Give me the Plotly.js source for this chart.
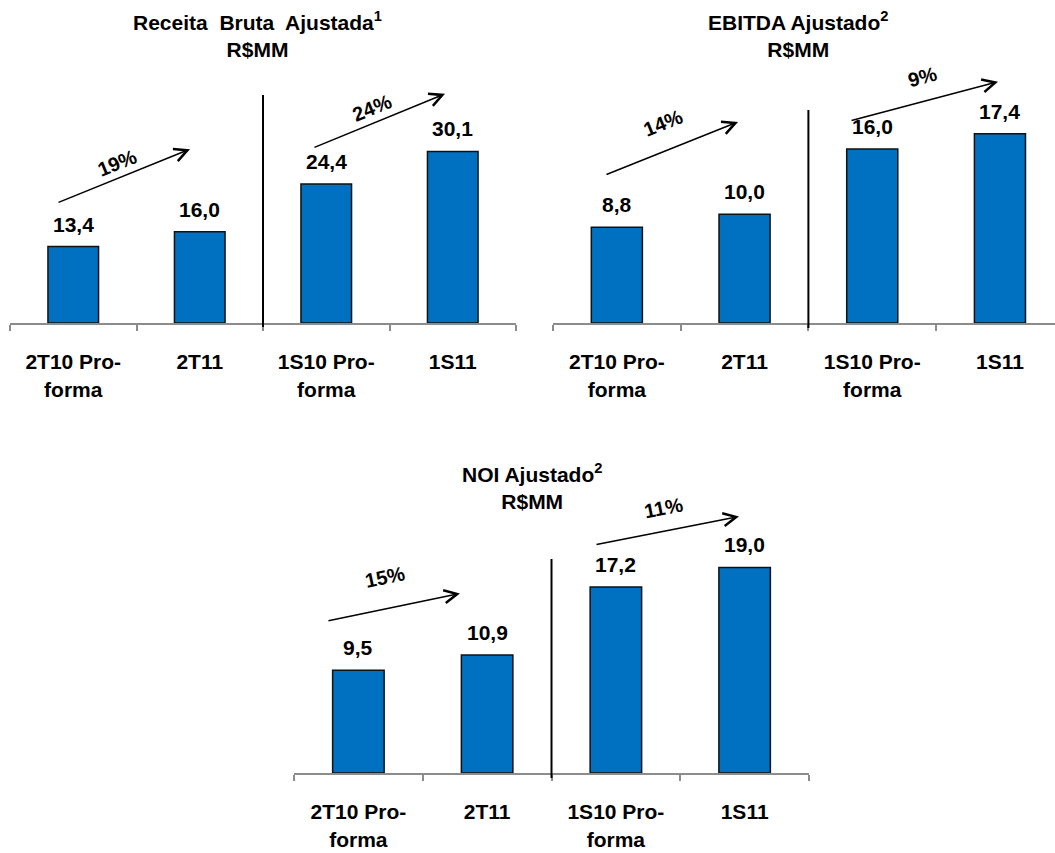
<!DOCTYPE html>
<html><head><meta charset="utf-8">
<script src="https://cdn.plot.ly/plotly-3.0.1.min.js"></script>
<style>html,body{margin:0;padding:0;background:#fff}</style>
</head><body><div id="chart" style="width:1055px;height:853px"></div>
<script>
// ---- data ----
const categories = ["2T10 Pro-<br>forma", "2T11", "1S10 Pro-<br>forma", "1S11"];
const receitaValues = [13.4, 16.0, 24.4, 30.1];
const ebitdaValues = [8.8, 10.0, 16.0, 17.4];
const noiValues = [9.5, 10.9, 17.2, 19.0];
const receitaGrowth = ["19%", "24%"];
const ebitdaGrowth = ["14%", "9%"];
const noiGrowth = ["15%", "11%"];
const titles = ["Receita  Bruta  Ajustada<sup>1</sup><br>R$MM", "EBITDA Ajustado<sup>2</sup><br>R$MM", "NOI Ajustado<sup>2</sup><br>R$MM"];

// ---- layout helpers ----
const FONT = "Liberation Sans, Arial, sans-serif";
const BLUE = "#0070C0";
const W = 1055, H = 853;
const py = p => (H - p) / H;

const panels = [
  {vals: receitaValues, growth: receitaGrowth, title: titles[0], xs: "x", ys: "y",
   xdom: [10/W, 516/W], xr: [-0.5, 3.5], ydom: [py(323), py(80)], yr: [0, 243/5.7],
   titlePos: [257/W, py(34.5)], divider: [py(327), py(95)],
   arrows: [{t:[-0.128, 21.05], h:[0.923, 30.5], l:[0.346, 28.1], a:-22},
            {t:[1.895, 30.7], h:[2.939, 40.2], l:[2.36, 37.7], a:-22}]},
  {vals: ebitdaValues, growth: ebitdaGrowth, title: titles[1], xs: "x2", ys: "y2",
   xdom: [553/W, 1], xr: [-0.5, -0.5 + 502/127.7], ydom: [py(323), py(60)], yr: [0, 263/10.87],
   titlePos: [798/W, py(34.5)], divider: [py(328), py(110)],
   arrows: [{t:[-0.093, 13.6], h:[0.949, 18.5], l:[0.361, 18.4], a:-22},
            {t:[1.826, 18.6], h:[2.985, 22.2], l:[2.39, 22.6], a:-15}]},
  {vals: noiValues, growth: noiGrowth, title: titles[2], xs: "x3", ys: "y3",
   xdom: [294/W, 809/W], xr: [-0.5, 3.5], ydom: [py(773), py(500)], yr: [0, 273/10.82],
   titlePos: [532/W, py(486)], divider: [py(778), py(559)],
   arrows: [{t:[-0.244, 14.05], h:[0.789, 16.6], l:[0.207, 18.1], a:-12},
            {t:[1.838, 21.1], h:[2.956, 23.7], l:[2.366, 24.5], a:-11}]}
];

const data = [];
const annotations = [];
const shapes = [];
const layout = {
  width: W, height: H, margin: {l:0, r:0, t:0, b:0},
  paper_bgcolor: "#fff", plot_bgcolor: "rgba(0,0,0,0)",
  showlegend: false, font: {family: FONT, color: "#000"},
  annotations, shapes
};

panels.forEach((p, i) => {
  const xa = i === 0 ? "xaxis" : "xaxis" + (i + 1);
  const ya = i === 0 ? "yaxis" : "yaxis" + (i + 1);
  data.push({
    type: "bar", x: categories, y: p.vals, xaxis: p.xs, yaxis: p.ys,
    width: 0.4, marker: {color: BLUE, line: {color: "#111", width: 1.5}},
    hoverinfo: "skip"
  });
  layout[xa] = {
    domain: p.xdom, range: p.xr, type: "category", tickson: "boundaries",
    showline: true, linecolor: "#8c8c8c", linewidth: 2,
    ticks: "outside", ticklen: 6, tickwidth: 2, tickcolor: "#8c8c8c",
    showgrid: false, zeroline: false, fixedrange: true,
    tickfont: {family: FONT, size: 21, weight: "bold", color: "#000"},
    ticklabelstandoff: 19,
    anchor: p.ys
  };
  layout[ya] = {domain: p.ydom, range: p.yr, visible: false, fixedrange: true, anchor: p.xs};
  // value labels
  p.vals.forEach((v, k) => {
    annotations.push({
      xref: p.xs, yref: p.ys, x: k, y: v, text: v.toFixed(1).replace(".", ","),
      showarrow: false, yanchor: "bottom", yshift: 9,
      font: {family: FONT, size: 21, weight: "bold", color: "#000"}
    });
  });
  // growth arrows & labels
  p.arrows.forEach((a, k) => {
    annotations.push({
      xref: p.xs, yref: p.ys, axref: p.xs, ayref: p.ys,
      x: a.h[0], y: a.h[1], ax: a.t[0], ay: a.t[1], text: "",
      showarrow: true, arrowhead: 5, arrowwidth: 1.5, arrowsize: 1.7, arrowcolor: "#000"
    });
    annotations.push({
      xref: p.xs, yref: p.ys, x: a.l[0], y: a.l[1], text: p.growth[k],
      showarrow: false, textangle: a.a,
      font: {family: FONT, size: 20, weight: "bold", color: "#000"}
    });
  });
  // title
  annotations.push({
    xref: "paper", yref: "paper", x: p.titlePos[0], y: p.titlePos[1],
    xanchor: "center", yanchor: "middle", text: p.title, showarrow: false,
    font: {family: FONT, size: 21, weight: "bold", color: "#000"}
  });
  // divider
  shapes.push({
    type: "line", xref: p.xs, yref: "paper", x0: 1.5, x1: 1.5,
    y0: p.divider[0], y1: p.divider[1], line: {color: "#000", width: 2}
  });
});

Plotly.newPlot("chart", data, layout, {displayModeBar: false, staticPlot: true});
</script>
</body></html>
